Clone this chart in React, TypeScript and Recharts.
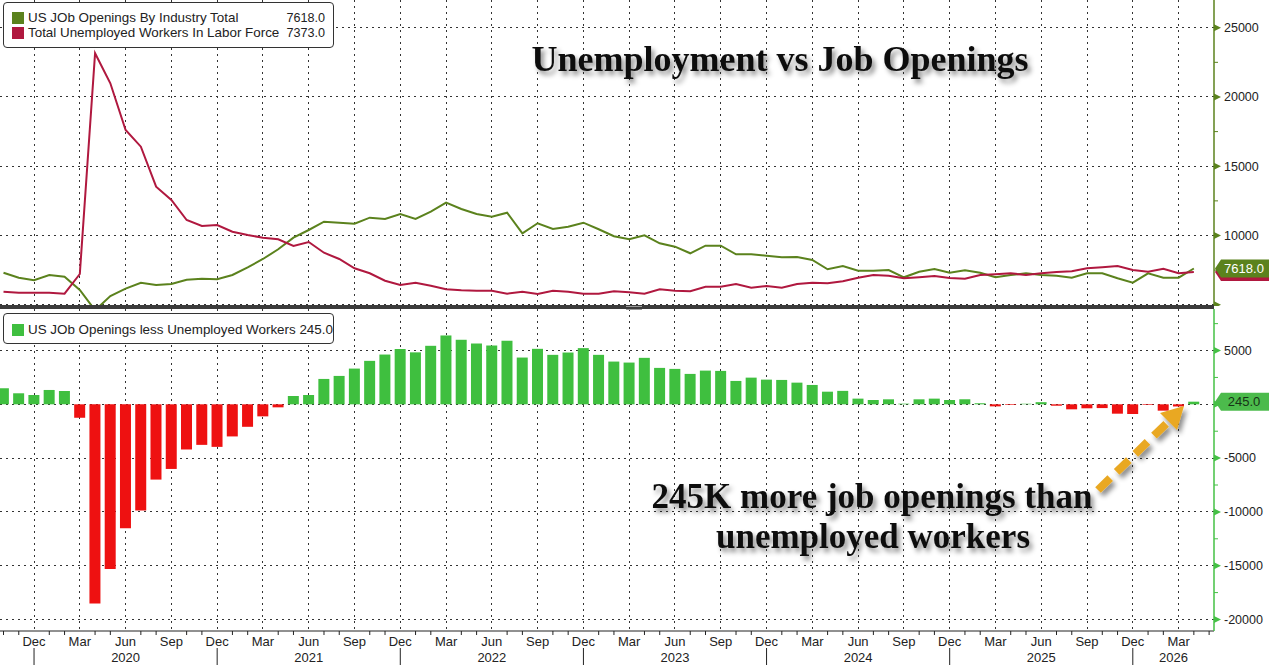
import React from 'react';
import { ComposedChart, Line, Bar, Cell, XAxis, YAxis, CartesianGrid, ReferenceLine } from 'recharts';

// monthly series, first point = Oct 2019
const START_YEAR = 2019;
const START_MONTH = 9;

// US job openings by industry total (thousands)
const openings = [
  7314, 6953, 6765,
  7148, 7026, 6065, 4600, 5632, 6160, 6592, 6426, 6498, 6809, 6881, 6838,
  7148, 7704, 8303, 9004, 9841, 10397, 10996, 10924, 10852, 11285, 11191, 11552,
  11191, 11719, 12369, 11913, 11552, 11359, 11647, 10159, 10881, 10469, 10635, 10924,
  10448, 9950, 9726, 10014, 9437, 9191, 8715, 9264, 9264, 8643, 8643, 8542,
  8426, 8448, 8231, 7560, 7798, 7459, 7459, 7509, 6982, 7386, 7581, 7314,
  7487, 7314, 6982, 7148, 7271, 7148, 7098, 6953, 7271, 7271, 6910, 6592,
  7271, 6953, 6953, 7618,
];

// total unemployed workers in labor force (thousands)
const unemployed = [
  5942, 5870, 5870,
  5870, 5798, 7220, 23155, 20989, 17617, 16411, 13523, 12563, 11119, 10686, 10758,
  10274, 10036, 9841, 9726, 9250, 9530, 8758, 8303, 7632, 7271, 6737, 6426,
  6592, 6376, 6116, 6044, 6015, 6015, 5798, 5942, 5776, 6015, 5942, 5798,
  5798, 5980, 5899, 5798, 6116, 6015, 5971, 6304, 6304, 6498, 6232, 6354,
  6232, 6498, 6592, 6549, 6693, 6953, 7148, 7098, 6910, 6982, 7076, 6932,
  6881, 7148, 7199, 7271, 7148, 7271, 7365, 7415, 7632, 7704, 7798, 7509,
  7386, 7603, 7271, 7373,
];

// job openings less unemployed workers (thousands)
const gap = [
  1493, 1026, 868,
  1334, 1241, -1250, -18507, -15299, -11511, -9860, -6996, -6007, -4198, -3769, -3955,
  -2985, -2090, -1119, -280, 774, 868, 2360, 2640, 3321, 4040, 4627, 5140,
  4830, 5439, 6400, 6000, 5653, 5467, 5905, 4348, 5159, 4599, 4814, 5224,
  4599, 3974, 3881, 4320, 3386, 3293, 2827, 3134, 3106, 2174, 2481, 2295,
  2267, 2015, 1800, 1175, 1250, 529, 404, 466, 62, 466, 529, 404,
  470, 100, -190, -60, 60, 200, -130, -465, -370, -350, -870, -900,
  -60, -590, -200, 245,
];

const MONTHS = ['Jan', 'Feb', 'Mar', 'Apr', 'May', 'Jun', 'Jul', 'Aug', 'Sep', 'Oct', 'Nov', 'Dec'];
const topTicks = [5000, 7500, 10000, 12500, 15000, 17500, 20000, 22500, 25000];
const topLabels = [10000, 15000, 20000, 25000];
const topGrid = [5000, 10000, 15000, 20000, 25000];
const bottomTicks = [-20000, -17500, -15000, -12500, -10000, -7500, -5000, -2500, 0, 2500, 5000, 7500];
const bottomLabels = [-20000, -15000, -10000, -5000, 5000];
const bottomGrid = [-20000, -15000, -10000, -5000, 0, 5000];

const OLIVE = '#5b821d';
const CRIMSON = '#b0183f';
const BAR_GREEN = '#3fbf3f';
const BAR_RED = '#ee1111';
const AXIS_GREEN = '#45c045';
const SANS = '"Liberation Sans", Arial, sans-serif';
const SERIF = '"Liberation Serif", "Times New Roman", serif';

const W = 1269;
const AXIS_W = 55;
const PLOT_W = W - AXIS_W;
const X_DOMAIN: [number, number] = [-0.23, 79.32];
const STEP = PLOT_W / (X_DOMAIN[1] - X_DOMAIN[0]);

const data = openings.map((v, i) => ({ i, openings: v, unemployed: unemployed[i], gap: gap[i] }));
const last = data.length - 1;
const monthIdx = Array.from({ length: 80 }, (_, i) => i);
const quarterIdx = monthIdx.filter((i) => (START_MONTH + i) % 3 === 2);

const YTick = (props: any) => {
  const { x, y, payload, color, labels } = props;
  const v = payload.value;
  if (v % 5000 !== 0) {
    return <line x1={x} x2={x + 4} y1={y} y2={y} stroke={color} strokeWidth={1} />;
  }
  return (
    <g>
      <polygon points={`${x},${y - 3.5} ${x + 7},${y} ${x},${y + 3.5}`} fill={color} />
      {labels.includes(v) && (
        <text x={x + 10} y={y} dy="0.35em" fontSize={12.5} fontFamily={SANS} fill="#222">
          {v}
        </text>
      )}
    </g>
  );
};

const XTick = (props: any) => {
  const { x, y, payload } = props;
  const i = payload.value;
  const abs = START_MONTH + i;
  const m = abs % 12;
  const yr = START_YEAR + Math.floor(abs / 12);
  const txt = { fontSize: 13, fontFamily: SANS, fill: '#222', textAnchor: 'middle' as const };
  return (
    <g>
      {m % 3 === 2 ? (
        <text x={x} y={y + 10} dy="0.35em" {...txt}>
          {MONTHS[m]}
        </text>
      ) : (
        <line x1={x} x2={x} y1={y} y2={y + 4} stroke="#222" />
      )}
      {m === 11 && <line x1={x} x2={x} y1={y + 17} y2={y + 34} stroke="#222" />}
      {m === 5 && (
        <text x={x} y={y + 26} dy="0.35em" {...txt}>
          {yr}
        </text>
      )}
      {m === 11 && i + 6 > X_DOMAIN[1] && (
        <text x={x + ((X_DOMAIN[1] - i) / 2) * STEP} y={y + 26} dy="0.35em" {...txt}>
          {yr + 1}
        </text>
      )}
    </g>
  );
};

// value badge at the right end of a reference line; no text when it sits behind another badge
const Badge = (props: any) => {
  const { viewBox, text, bg, color } = props;
  if (!viewBox) return null;
  const x0 = viewBox.x + viewBox.width + 1;
  const y = viewBox.y;
  return (
    <g>
      <polygon
        points={`${x0},${y} ${x0 + 6},${y - 9} ${x0 + 56},${y - 9} ${x0 + 56},${y + 9} ${x0 + 6},${y + 9}`}
        fill={bg}
      />
      {text && (
        <text x={x0 + 29} y={y} dy="0.36em" textAnchor="middle" fontSize={13} fontFamily={SANS} fill={color}>
          {text}
        </text>
      )}
    </g>
  );
};

const legendBox: React.CSSProperties = {
  position: 'absolute',
  left: 3,
  width: 329,
  border: '1px solid #333',
  borderRadius: 4,
  background: '#fff',
  fontFamily: SANS,
  fontSize: 13.4,
  color: '#222',
};

const LegendRow = ({ top, color, label, value }: { top: number; color: string; label: string; value: string }) => (
  <div style={{ position: 'absolute', left: 0, right: 0, top: top - 8, height: 16, lineHeight: '16px', whiteSpace: 'nowrap' }}>
    <span style={{ position: 'absolute', left: 8, top: 2, width: 12, height: 12, background: color }} />
    <span style={{ position: 'absolute', left: 24 }}>{label}</span>
    <span style={{ position: 'absolute', right: 8, fontSize: 12.6 }}>{value}</span>
  </div>
);

const App: React.FC = () => {
  return (
    <div style={{ position: 'absolute', left: 0, top: 0, width: W, height: 665, background: '#fff', overflow: 'hidden' }}>
      <div style={{ position: 'absolute', left: 0, top: 0 }}>
        <ComposedChart width={W} height={306} data={data} margin={{ top: 0, right: 0, left: 0, bottom: 0 }}>
          <CartesianGrid
            stroke="#333"
            strokeDasharray="2 4"
            shapeRendering="crispEdges"
            verticalValues={quarterIdx}
            horizontalValues={topGrid}
          />
          <XAxis type="number" dataKey="i" domain={X_DOMAIN} hide allowDataOverflow />
          <YAxis
            orientation="right"
            width={AXIS_W}
            domain={[4910, 27000]}
            ticks={topTicks}
            interval={0}
            allowDataOverflow
            axisLine={{ stroke: OLIVE, strokeWidth: 1.5 }}
            tickLine={false}
            tickSize={0}
            tickMargin={0}
            tick={(p: any) => <YTick {...p} color={OLIVE} labels={topLabels} />}
          />
          <Line
            dataKey="openings"
            stroke={OLIVE}
            strokeWidth={2}
            dot={false}
            activeDot={false}
            legendType="none"
            isAnimationActive={false}
          />
          <Line
            dataKey="unemployed"
            stroke={CRIMSON}
            strokeWidth={2}
            dot={false}
            activeDot={false}
            legendType="none"
            isAnimationActive={false}
          />
          <ReferenceLine y={unemployed[last]} stroke="none" label={<Badge text="" bg={CRIMSON} color="#fff" />} />
          <ReferenceLine
            y={openings[last]}
            stroke="none"
            label={<Badge text={openings[last].toFixed(1)} bg={OLIVE} color="#fff" />}
          />
        </ComposedChart>
      </div>

      <div style={{ position: 'absolute', left: 0, top: 309 }}>
        <ComposedChart width={W} height={356} data={data} margin={{ top: 0, right: 0, left: 0, bottom: 0 }}>
          <CartesianGrid
            stroke="#333"
            strokeDasharray="2 4"
            shapeRendering="crispEdges"
            verticalValues={quarterIdx}
            horizontalValues={bottomGrid}
          />
          <XAxis
            type="number"
            dataKey="i"
            domain={X_DOMAIN}
            ticks={monthIdx}
            interval={0}
            height={34}
            allowDataOverflow
            axisLine={{ stroke: '#222' }}
            tickLine={false}
            tickSize={0}
            tickMargin={0}
            tick={(p: any) => <XTick {...p} />}
          />
          <YAxis
            orientation="right"
            width={AXIS_W}
            domain={[-21070, 8860]}
            ticks={bottomTicks}
            interval={0}
            allowDataOverflow
            axisLine={{ stroke: AXIS_GREEN, strokeWidth: 1.5 }}
            tickLine={false}
            tickSize={0}
            tickMargin={0}
            tick={(p: any) => <YTick {...p} color={AXIS_GREEN} labels={bottomLabels} />}
          />
          <Bar dataKey="gap" barSize={11} isAnimationActive={false}>
            {data.map((d, k) => (
              <Cell key={`g-${k}`} fill={d.gap >= 0 ? BAR_GREEN : BAR_RED} />
            ))}
          </Bar>
          <ReferenceLine
            y={gap[last]}
            stroke="none"
            label={<Badge text={gap[last].toFixed(1)} bg="#4cbb4c" color="#173317" />}
          />
        </ComposedChart>
      </div>

      {/* panel separator */}
      <div style={{ position: 'absolute', left: 0, top: 305, width: PLOT_W, height: 4, background: '#3b3b3b' }} />
      <div style={{ position: 'absolute', left: 626, top: 306, width: 16, height: 2, borderTop: '1px solid #999', borderBottom: '1px solid #999' }} />

      <div style={{ ...legendBox, top: 2, height: 44 }}>
        <LegendRow top={14.5} color={OLIVE} label="US JOb Openings By Industry Total" value={openings[last].toFixed(1)} />
        <LegendRow top={30} color={CRIMSON} label="Total Unemployed Workers In Labor Force" value={unemployed[last].toFixed(1)} />
      </div>
      <div style={{ ...legendBox, top: 313, height: 29 }}>
        <LegendRow top={15.5} color={BAR_GREEN} label={`US JOb Openings less Unemployed Workers ${gap[last].toFixed(1)}`} value="" />
      </div>

      <svg width={W} height={665} style={{ position: 'absolute', left: 0, top: 0, pointerEvents: 'none' }}>
        <defs>
          <filter id="shade" x="-10%" y="-30%" width="130%" height="180%">
            <feDropShadow dx="3" dy="4" stdDeviation="2.5" floodColor="#000" floodOpacity="0.45" />
          </filter>
        </defs>
        <text x={780} y={71} textAnchor="middle" fontFamily={SERIF} fontWeight="bold" fontSize={36} fill="#111" filter="url(#shade)">
          Unemployment vs Job Openings
        </text>
        <g fontFamily={SERIF} fontWeight="bold" fontSize={35} fill="#111" textAnchor="middle" filter="url(#shade)">
          <text x={872} y={508}>245K more job openings than</text>
          <text x={873} y={548}>unemployed workers</text>
        </g>
        <g filter="url(#shade)">
          <line x1={1098} y1={490} x2={1168} y2={422} stroke="#e9a824" strokeWidth={8} strokeDasharray="17 9" />
          <polygon points="1184,406 1177,430 1160,413" fill="#e9a824" />
        </g>
      </svg>
    </div>
  );
};

export default App;
